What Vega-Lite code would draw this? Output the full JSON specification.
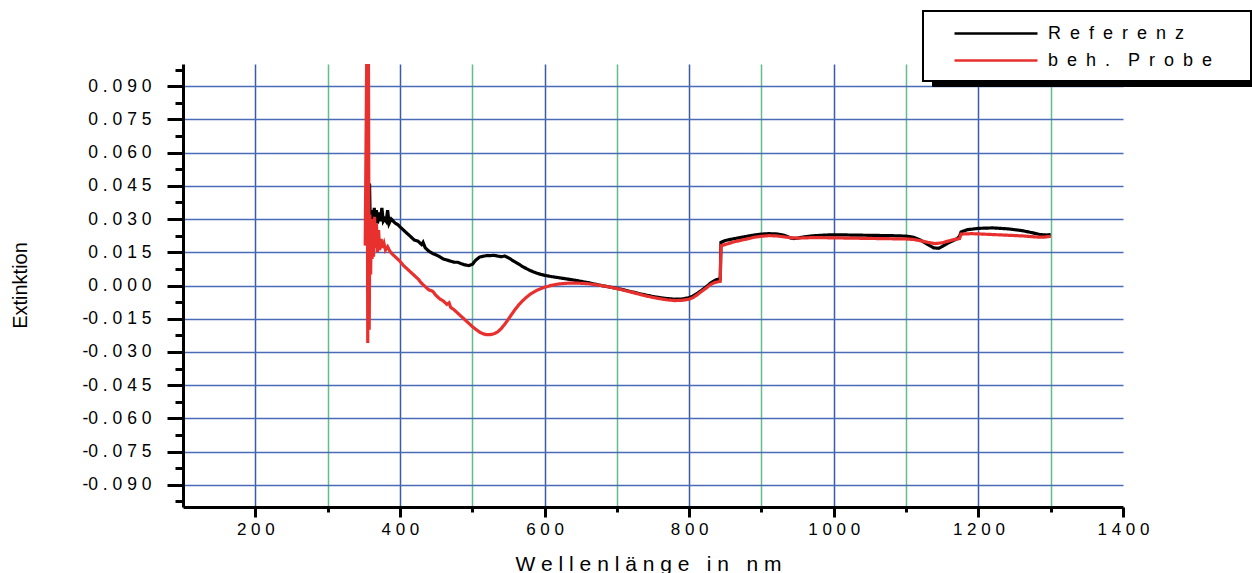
{
  "$schema": "https://vega.github.io/schema/vega-lite/v6.json",
  "autosize": {"type": "none"},
  "width": 940,
  "height": 443,
  "padding": {"left": 183, "top": 64, "right": 129, "bottom": 66},
  "background": "white",
  "view": {"stroke": null},
  "config": {
    "font": "Liberation Sans",
    "axis": {"labelFont": "Liberation Sans", "titleFont": "Liberation Sans", "labelColor": "black", "titleColor": "black", "titleFontWeight": "normal"}
  },
  "data": {
    "values": [
      {"series": "Referenz", "wavelength": 357, "extinction": 0.02},
      {"series": "Referenz", "wavelength": 358, "extinction": 0.046},
      {"series": "Referenz", "wavelength": 359, "extinction": 0.026},
      {"series": "Referenz", "wavelength": 360, "extinction": 0.032},
      {"series": "Referenz", "wavelength": 361, "extinction": 0.027},
      {"series": "Referenz", "wavelength": 362, "extinction": 0.034},
      {"series": "Referenz", "wavelength": 363, "extinction": 0.028},
      {"series": "Referenz", "wavelength": 364.5, "extinction": 0.035},
      {"series": "Referenz", "wavelength": 366, "extinction": 0.029},
      {"series": "Referenz", "wavelength": 367.5, "extinction": 0.034},
      {"series": "Referenz", "wavelength": 369, "extinction": 0.028},
      {"series": "Referenz", "wavelength": 371, "extinction": 0.033},
      {"series": "Referenz", "wavelength": 373, "extinction": 0.029},
      {"series": "Referenz", "wavelength": 375, "extinction": 0.035},
      {"series": "Referenz", "wavelength": 377, "extinction": 0.029},
      {"series": "Referenz", "wavelength": 379, "extinction": 0.03},
      {"series": "Referenz", "wavelength": 381, "extinction": 0.029},
      {"series": "Referenz", "wavelength": 383, "extinction": 0.034},
      {"series": "Referenz", "wavelength": 385, "extinction": 0.028},
      {"series": "Referenz", "wavelength": 388, "extinction": 0.03},
      {"series": "Referenz", "wavelength": 391, "extinction": 0.029},
      {"series": "Referenz", "wavelength": 394, "extinction": 0.028},
      {"series": "Referenz", "wavelength": 397, "extinction": 0.0275},
      {"series": "Referenz", "wavelength": 400, "extinction": 0.0265},
      {"series": "Referenz", "wavelength": 405, "extinction": 0.025},
      {"series": "Referenz", "wavelength": 410, "extinction": 0.0235},
      {"series": "Referenz", "wavelength": 415, "extinction": 0.022},
      {"series": "Referenz", "wavelength": 420, "extinction": 0.0205},
      {"series": "Referenz", "wavelength": 425, "extinction": 0.02},
      {"series": "Referenz", "wavelength": 430, "extinction": 0.0185},
      {"series": "Referenz", "wavelength": 432, "extinction": 0.0195},
      {"series": "Referenz", "wavelength": 435, "extinction": 0.017},
      {"series": "Referenz", "wavelength": 440, "extinction": 0.0155},
      {"series": "Referenz", "wavelength": 445, "extinction": 0.0145},
      {"series": "Referenz", "wavelength": 450, "extinction": 0.0138},
      {"series": "Referenz", "wavelength": 455, "extinction": 0.013},
      {"series": "Referenz", "wavelength": 460, "extinction": 0.012},
      {"series": "Referenz", "wavelength": 465, "extinction": 0.0115},
      {"series": "Referenz", "wavelength": 470, "extinction": 0.011},
      {"series": "Referenz", "wavelength": 475, "extinction": 0.0105},
      {"series": "Referenz", "wavelength": 480, "extinction": 0.0105},
      {"series": "Referenz", "wavelength": 485, "extinction": 0.0098},
      {"series": "Referenz", "wavelength": 490, "extinction": 0.0093},
      {"series": "Referenz", "wavelength": 495, "extinction": 0.009},
      {"series": "Referenz", "wavelength": 500, "extinction": 0.0095},
      {"series": "Referenz", "wavelength": 505, "extinction": 0.0115},
      {"series": "Referenz", "wavelength": 510, "extinction": 0.0128},
      {"series": "Referenz", "wavelength": 515, "extinction": 0.0132},
      {"series": "Referenz", "wavelength": 520, "extinction": 0.0135},
      {"series": "Referenz", "wavelength": 525, "extinction": 0.0135},
      {"series": "Referenz", "wavelength": 530, "extinction": 0.0136},
      {"series": "Referenz", "wavelength": 535, "extinction": 0.0133},
      {"series": "Referenz", "wavelength": 540, "extinction": 0.013},
      {"series": "Referenz", "wavelength": 545, "extinction": 0.0133},
      {"series": "Referenz", "wavelength": 550, "extinction": 0.0125},
      {"series": "Referenz", "wavelength": 555, "extinction": 0.0115},
      {"series": "Referenz", "wavelength": 560, "extinction": 0.0105},
      {"series": "Referenz", "wavelength": 565, "extinction": 0.0095},
      {"series": "Referenz", "wavelength": 570, "extinction": 0.0085},
      {"series": "Referenz", "wavelength": 575, "extinction": 0.0076},
      {"series": "Referenz", "wavelength": 580, "extinction": 0.0068},
      {"series": "Referenz", "wavelength": 585, "extinction": 0.0061},
      {"series": "Referenz", "wavelength": 590, "extinction": 0.0055},
      {"series": "Referenz", "wavelength": 595, "extinction": 0.005},
      {"series": "Referenz", "wavelength": 600, "extinction": 0.0046},
      {"series": "Referenz", "wavelength": 610, "extinction": 0.004},
      {"series": "Referenz", "wavelength": 620, "extinction": 0.0035},
      {"series": "Referenz", "wavelength": 630, "extinction": 0.003},
      {"series": "Referenz", "wavelength": 640, "extinction": 0.0025},
      {"series": "Referenz", "wavelength": 650, "extinction": 0.0019},
      {"series": "Referenz", "wavelength": 660, "extinction": 0.0013},
      {"series": "Referenz", "wavelength": 670, "extinction": 0.0006},
      {"series": "Referenz", "wavelength": 680, "extinction": -0.0001},
      {"series": "Referenz", "wavelength": 690, "extinction": -0.0007},
      {"series": "Referenz", "wavelength": 700, "extinction": -0.0013},
      {"series": "Referenz", "wavelength": 710, "extinction": -0.002},
      {"series": "Referenz", "wavelength": 720, "extinction": -0.0028},
      {"series": "Referenz", "wavelength": 730, "extinction": -0.0036},
      {"series": "Referenz", "wavelength": 740, "extinction": -0.0043},
      {"series": "Referenz", "wavelength": 750, "extinction": -0.005},
      {"series": "Referenz", "wavelength": 760, "extinction": -0.0055},
      {"series": "Referenz", "wavelength": 770, "extinction": -0.0059},
      {"series": "Referenz", "wavelength": 780, "extinction": -0.0062},
      {"series": "Referenz", "wavelength": 790, "extinction": -0.0061},
      {"series": "Referenz", "wavelength": 800, "extinction": -0.0055},
      {"series": "Referenz", "wavelength": 805, "extinction": -0.0048},
      {"series": "Referenz", "wavelength": 810, "extinction": -0.0038},
      {"series": "Referenz", "wavelength": 815, "extinction": -0.0027},
      {"series": "Referenz", "wavelength": 820, "extinction": -0.0015},
      {"series": "Referenz", "wavelength": 825, "extinction": -0.0002},
      {"series": "Referenz", "wavelength": 830, "extinction": 0.0012},
      {"series": "Referenz", "wavelength": 835, "extinction": 0.0022},
      {"series": "Referenz", "wavelength": 838, "extinction": 0.0027},
      {"series": "Referenz", "wavelength": 843, "extinction": 0.003},
      {"series": "Referenz", "wavelength": 844, "extinction": 0.0195},
      {"series": "Referenz", "wavelength": 850, "extinction": 0.0203},
      {"series": "Referenz", "wavelength": 860, "extinction": 0.021},
      {"series": "Referenz", "wavelength": 870, "extinction": 0.0216},
      {"series": "Referenz", "wavelength": 880, "extinction": 0.0222},
      {"series": "Referenz", "wavelength": 890, "extinction": 0.0228},
      {"series": "Referenz", "wavelength": 900, "extinction": 0.0232},
      {"series": "Referenz", "wavelength": 910, "extinction": 0.0234},
      {"series": "Referenz", "wavelength": 920, "extinction": 0.0233},
      {"series": "Referenz", "wavelength": 930, "extinction": 0.0228},
      {"series": "Referenz", "wavelength": 935, "extinction": 0.0222},
      {"series": "Referenz", "wavelength": 940, "extinction": 0.0215},
      {"series": "Referenz", "wavelength": 945, "extinction": 0.0212},
      {"series": "Referenz", "wavelength": 950, "extinction": 0.0214},
      {"series": "Referenz", "wavelength": 960, "extinction": 0.022},
      {"series": "Referenz", "wavelength": 970, "extinction": 0.0224},
      {"series": "Referenz", "wavelength": 980, "extinction": 0.0226},
      {"series": "Referenz", "wavelength": 990, "extinction": 0.0228},
      {"series": "Referenz", "wavelength": 1000, "extinction": 0.0229},
      {"series": "Referenz", "wavelength": 1010, "extinction": 0.0229},
      {"series": "Referenz", "wavelength": 1020, "extinction": 0.0228},
      {"series": "Referenz", "wavelength": 1040, "extinction": 0.0227},
      {"series": "Referenz", "wavelength": 1060, "extinction": 0.0226},
      {"series": "Referenz", "wavelength": 1080, "extinction": 0.0225},
      {"series": "Referenz", "wavelength": 1100, "extinction": 0.0223},
      {"series": "Referenz", "wavelength": 1110, "extinction": 0.0218},
      {"series": "Referenz", "wavelength": 1120, "extinction": 0.0205},
      {"series": "Referenz", "wavelength": 1130, "extinction": 0.0185},
      {"series": "Referenz", "wavelength": 1138, "extinction": 0.017},
      {"series": "Referenz", "wavelength": 1145, "extinction": 0.0168},
      {"series": "Referenz", "wavelength": 1150, "extinction": 0.0176},
      {"series": "Referenz", "wavelength": 1160, "extinction": 0.0195},
      {"series": "Referenz", "wavelength": 1170, "extinction": 0.021},
      {"series": "Referenz", "wavelength": 1174, "extinction": 0.0222},
      {"series": "Referenz", "wavelength": 1176, "extinction": 0.0242},
      {"series": "Referenz", "wavelength": 1185, "extinction": 0.0252},
      {"series": "Referenz", "wavelength": 1200, "extinction": 0.0258},
      {"series": "Referenz", "wavelength": 1220, "extinction": 0.026},
      {"series": "Referenz", "wavelength": 1240, "extinction": 0.0256},
      {"series": "Referenz", "wavelength": 1260, "extinction": 0.0248},
      {"series": "Referenz", "wavelength": 1275, "extinction": 0.0238},
      {"series": "Referenz", "wavelength": 1285, "extinction": 0.023},
      {"series": "Referenz", "wavelength": 1295, "extinction": 0.0228},
      {"series": "Referenz", "wavelength": 1300, "extinction": 0.023},
      {"series": "beh. Probe", "wavelength": 352, "extinction": 0.018},
      {"series": "beh. Probe", "wavelength": 354, "extinction": 0.1},
      {"series": "beh. Probe", "wavelength": 355, "extinction": 0.05},
      {"series": "beh. Probe", "wavelength": 355.5, "extinction": -0.026},
      {"series": "beh. Probe", "wavelength": 356.5, "extinction": 0.1},
      {"series": "beh. Probe", "wavelength": 357.5, "extinction": -0.02},
      {"series": "beh. Probe", "wavelength": 358.5, "extinction": 0.032},
      {"series": "beh. Probe", "wavelength": 359.5, "extinction": 0.005},
      {"series": "beh. Probe", "wavelength": 360.5, "extinction": 0.03},
      {"series": "beh. Probe", "wavelength": 361.5, "extinction": 0.012},
      {"series": "beh. Probe", "wavelength": 362.5, "extinction": 0.026},
      {"series": "beh. Probe", "wavelength": 363.5, "extinction": 0.013},
      {"series": "beh. Probe", "wavelength": 365, "extinction": 0.031},
      {"series": "beh. Probe", "wavelength": 366, "extinction": 0.017},
      {"series": "beh. Probe", "wavelength": 367.5, "extinction": 0.028},
      {"series": "beh. Probe", "wavelength": 369, "extinction": 0.015},
      {"series": "beh. Probe", "wavelength": 370.5, "extinction": 0.025},
      {"series": "beh. Probe", "wavelength": 372, "extinction": 0.016},
      {"series": "beh. Probe", "wavelength": 374, "extinction": 0.021},
      {"series": "beh. Probe", "wavelength": 376, "extinction": 0.017},
      {"series": "beh. Probe", "wavelength": 378, "extinction": 0.019},
      {"series": "beh. Probe", "wavelength": 380, "extinction": 0.016},
      {"series": "beh. Probe", "wavelength": 383, "extinction": 0.0175},
      {"series": "beh. Probe", "wavelength": 386, "extinction": 0.0155},
      {"series": "beh. Probe", "wavelength": 390, "extinction": 0.014},
      {"series": "beh. Probe", "wavelength": 395, "extinction": 0.0125},
      {"series": "beh. Probe", "wavelength": 400, "extinction": 0.011},
      {"series": "beh. Probe", "wavelength": 405, "extinction": 0.009},
      {"series": "beh. Probe", "wavelength": 410, "extinction": 0.0075},
      {"series": "beh. Probe", "wavelength": 415, "extinction": 0.006},
      {"series": "beh. Probe", "wavelength": 420, "extinction": 0.0045},
      {"series": "beh. Probe", "wavelength": 425, "extinction": 0.003},
      {"series": "beh. Probe", "wavelength": 430, "extinction": 0.001},
      {"series": "beh. Probe", "wavelength": 435, "extinction": -0.0005},
      {"series": "beh. Probe", "wavelength": 440, "extinction": -0.002},
      {"series": "beh. Probe", "wavelength": 445, "extinction": -0.0025},
      {"series": "beh. Probe", "wavelength": 450, "extinction": -0.0045},
      {"series": "beh. Probe", "wavelength": 455, "extinction": -0.006},
      {"series": "beh. Probe", "wavelength": 460, "extinction": -0.007},
      {"series": "beh. Probe", "wavelength": 465, "extinction": -0.0085},
      {"series": "beh. Probe", "wavelength": 468, "extinction": -0.0078},
      {"series": "beh. Probe", "wavelength": 470, "extinction": -0.0098},
      {"series": "beh. Probe", "wavelength": 475, "extinction": -0.011},
      {"series": "beh. Probe", "wavelength": 480, "extinction": -0.0125},
      {"series": "beh. Probe", "wavelength": 485, "extinction": -0.014},
      {"series": "beh. Probe", "wavelength": 490, "extinction": -0.0155},
      {"series": "beh. Probe", "wavelength": 495, "extinction": -0.017},
      {"series": "beh. Probe", "wavelength": 500, "extinction": -0.0185},
      {"series": "beh. Probe", "wavelength": 505, "extinction": -0.0198},
      {"series": "beh. Probe", "wavelength": 510, "extinction": -0.021},
      {"series": "beh. Probe", "wavelength": 515, "extinction": -0.0218},
      {"series": "beh. Probe", "wavelength": 520, "extinction": -0.0222},
      {"series": "beh. Probe", "wavelength": 525, "extinction": -0.0222},
      {"series": "beh. Probe", "wavelength": 530, "extinction": -0.0218},
      {"series": "beh. Probe", "wavelength": 535, "extinction": -0.021},
      {"series": "beh. Probe", "wavelength": 540, "extinction": -0.0195},
      {"series": "beh. Probe", "wavelength": 545, "extinction": -0.0175},
      {"series": "beh. Probe", "wavelength": 550, "extinction": -0.0152},
      {"series": "beh. Probe", "wavelength": 555, "extinction": -0.0128},
      {"series": "beh. Probe", "wavelength": 560, "extinction": -0.0105},
      {"series": "beh. Probe", "wavelength": 565, "extinction": -0.0085},
      {"series": "beh. Probe", "wavelength": 570, "extinction": -0.0068},
      {"series": "beh. Probe", "wavelength": 575, "extinction": -0.0053},
      {"series": "beh. Probe", "wavelength": 580, "extinction": -0.004},
      {"series": "beh. Probe", "wavelength": 585, "extinction": -0.003},
      {"series": "beh. Probe", "wavelength": 590, "extinction": -0.0021},
      {"series": "beh. Probe", "wavelength": 595, "extinction": -0.0014},
      {"series": "beh. Probe", "wavelength": 600, "extinction": -0.0008},
      {"series": "beh. Probe", "wavelength": 610, "extinction": 0.0001},
      {"series": "beh. Probe", "wavelength": 620, "extinction": 0.0007},
      {"series": "beh. Probe", "wavelength": 630, "extinction": 0.001},
      {"series": "beh. Probe", "wavelength": 640, "extinction": 0.0011},
      {"series": "beh. Probe", "wavelength": 650, "extinction": 0.001},
      {"series": "beh. Probe", "wavelength": 660, "extinction": 0.0008},
      {"series": "beh. Probe", "wavelength": 670, "extinction": 0.0004},
      {"series": "beh. Probe", "wavelength": 680, "extinction": -0.0001},
      {"series": "beh. Probe", "wavelength": 690, "extinction": -0.0007},
      {"series": "beh. Probe", "wavelength": 700, "extinction": -0.0014},
      {"series": "beh. Probe", "wavelength": 710, "extinction": -0.0022},
      {"series": "beh. Probe", "wavelength": 720, "extinction": -0.003},
      {"series": "beh. Probe", "wavelength": 730, "extinction": -0.0038},
      {"series": "beh. Probe", "wavelength": 740, "extinction": -0.0047},
      {"series": "beh. Probe", "wavelength": 750, "extinction": -0.0054},
      {"series": "beh. Probe", "wavelength": 760, "extinction": -0.006},
      {"series": "beh. Probe", "wavelength": 770, "extinction": -0.0065},
      {"series": "beh. Probe", "wavelength": 780, "extinction": -0.0068},
      {"series": "beh. Probe", "wavelength": 790, "extinction": -0.0067},
      {"series": "beh. Probe", "wavelength": 800, "extinction": -0.0062},
      {"series": "beh. Probe", "wavelength": 805, "extinction": -0.0055},
      {"series": "beh. Probe", "wavelength": 810, "extinction": -0.0045},
      {"series": "beh. Probe", "wavelength": 815, "extinction": -0.0032},
      {"series": "beh. Probe", "wavelength": 820, "extinction": -0.002},
      {"series": "beh. Probe", "wavelength": 825, "extinction": -0.0008},
      {"series": "beh. Probe", "wavelength": 830, "extinction": 0.0005},
      {"series": "beh. Probe", "wavelength": 835, "extinction": 0.0013},
      {"series": "beh. Probe", "wavelength": 840, "extinction": 0.0017},
      {"series": "beh. Probe", "wavelength": 843, "extinction": 0.0019},
      {"series": "beh. Probe", "wavelength": 844, "extinction": 0.018},
      {"series": "beh. Probe", "wavelength": 850, "extinction": 0.0185},
      {"series": "beh. Probe", "wavelength": 860, "extinction": 0.0195},
      {"series": "beh. Probe", "wavelength": 870, "extinction": 0.0203},
      {"series": "beh. Probe", "wavelength": 880, "extinction": 0.021},
      {"series": "beh. Probe", "wavelength": 890, "extinction": 0.0218},
      {"series": "beh. Probe", "wavelength": 900, "extinction": 0.0222},
      {"series": "beh. Probe", "wavelength": 910, "extinction": 0.0225},
      {"series": "beh. Probe", "wavelength": 920, "extinction": 0.0224},
      {"series": "beh. Probe", "wavelength": 930, "extinction": 0.022},
      {"series": "beh. Probe", "wavelength": 940, "extinction": 0.0216},
      {"series": "beh. Probe", "wavelength": 950, "extinction": 0.0214},
      {"series": "beh. Probe", "wavelength": 960, "extinction": 0.0215},
      {"series": "beh. Probe", "wavelength": 970, "extinction": 0.0216},
      {"series": "beh. Probe", "wavelength": 980, "extinction": 0.0216},
      {"series": "beh. Probe", "wavelength": 1000, "extinction": 0.0215},
      {"series": "beh. Probe", "wavelength": 1020, "extinction": 0.0214},
      {"series": "beh. Probe", "wavelength": 1040, "extinction": 0.0213},
      {"series": "beh. Probe", "wavelength": 1060, "extinction": 0.0212},
      {"series": "beh. Probe", "wavelength": 1080, "extinction": 0.0211},
      {"series": "beh. Probe", "wavelength": 1100, "extinction": 0.021},
      {"series": "beh. Probe", "wavelength": 1110, "extinction": 0.0208},
      {"series": "beh. Probe", "wavelength": 1120, "extinction": 0.0202},
      {"series": "beh. Probe", "wavelength": 1130, "extinction": 0.0195},
      {"series": "beh. Probe", "wavelength": 1140, "extinction": 0.0189},
      {"series": "beh. Probe", "wavelength": 1150, "extinction": 0.0193},
      {"series": "beh. Probe", "wavelength": 1160, "extinction": 0.0202},
      {"series": "beh. Probe", "wavelength": 1170, "extinction": 0.021},
      {"series": "beh. Probe", "wavelength": 1174, "extinction": 0.0212},
      {"series": "beh. Probe", "wavelength": 1176, "extinction": 0.0232},
      {"series": "beh. Probe", "wavelength": 1190, "extinction": 0.0234},
      {"series": "beh. Probe", "wavelength": 1200, "extinction": 0.0233},
      {"series": "beh. Probe", "wavelength": 1220, "extinction": 0.023},
      {"series": "beh. Probe", "wavelength": 1240, "extinction": 0.0227},
      {"series": "beh. Probe", "wavelength": 1260, "extinction": 0.0224},
      {"series": "beh. Probe", "wavelength": 1280, "extinction": 0.0219},
      {"series": "beh. Probe", "wavelength": 1290, "extinction": 0.0218},
      {"series": "beh. Probe", "wavelength": 1300, "extinction": 0.0222}
    ]
  },
  "mark": {"type": "line", "clip": true, "strokeWidth": 3.2, "interpolate": "linear"},
  "encoding": {
    "x": {
      "field": "wavelength",
      "type": "quantitative",
      "scale": {"domain": [100, 1400], "nice": false, "zero": false},
      "axis": {
        "title": "W e l l e n l ä n g e \u00a0 i n \u00a0 n m",
        "titleFontSize": 21,
        "titleX": 465,
        "titleY": 63,
        "titleAlign": "center",
        "titleBaseline": "alphabetic",
        "values": [200, 300, 400, 500, 600, 700, 800, 900, 1000, 1100, 1200, 1300, 1400],
        "labelExpr": "datum.value % 200 === 0 ? join(split(format(datum.value, 'd'), ''), ' ') : ''",
        "labelFontSize": 17,
        "labelPadding": 4,
        "labelFlush": false,
        "labelOverlap": false,
        "domainColor": "black",
        "domainWidth": 3,
        "tickColor": "black",
        "tickWidth": 3,
        "tickSize": {"condition": {"test": "datum.value % 200 === 0", "value": 10}, "value": 5},
        "grid": true,
        "gridWidth": 1.5,
        "gridColor": {"condition": {"test": "datum.value % 200 === 0", "value": "#3b5ba8"}, "value": "#62bd8a"},
        "gridOpacity": {"condition": {"test": "datum.value === 1400", "value": 0}, "value": 1}
      }
    },
    "y": {
      "field": "extinction",
      "type": "quantitative",
      "scale": {"domain": [-0.1, 0.1], "nice": false, "zero": false},
      "axis": {
        "title": "Extinktion",
        "titleFontSize": 20,
        "titleX": -163,
        "titleY": 221,
        "titleAlign": "center",
        "titleBaseline": "middle",
        "values": [0.0975, 0.09, 0.0825, 0.075, 0.0675, 0.06, 0.0525, 0.045, 0.0375, 0.03, 0.0225, 0.015, 0.0075, 0, -0.0075, -0.015, -0.0225, -0.03, -0.0375, -0.045, -0.0525, -0.06, -0.0675, -0.075, -0.0825, -0.09, -0.0975],
        "labelExpr": "abs(round(datum.value * 10000)) % 150 === 0 ? replace(join(split(format(datum.value, '.3f'), ''), ' '), /^[\u2212-] /, '-') : ''",
        "labelFontSize": 17.5,
        "labelPadding": 16,
        "labelOverlap": false,
        "labelFlush": false,
        "domainColor": "black",
        "domainWidth": 3,
        "tickColor": "black",
        "tickWidth": 3,
        "tickSize": {"condition": {"test": "abs(round(datum.value * 10000)) % 150 === 0", "value": 16}, "value": 8},
        "grid": true,
        "gridWidth": 1.5,
        "gridColor": "#4a6bb5",
        "gridOpacity": {"condition": {"test": "abs(round(datum.value * 10000)) % 150 === 0", "value": 1}, "value": 0}
      }
    },
    "color": {
      "field": "series",
      "type": "nominal",
      "scale": {"range": ["#000000", "#e8302e"]},
      "legend": {
        "orient": "none",
        "legendX": 749,
        "legendY": -46,
        "title": null,
        "fillColor": "black",
        "strokeColor": "black",
        "padding": 11,
        "rowPadding": 6,
        "symbolType": "M-1,0H7.3",
        "symbolSize": 400,
        "symbolOffset": 19,
        "symbolOpacity": 0,
        "labelOffset": 72,
        "labelLimit": 400,
        "labelFontSize": 18,
        "labelColor": "black",
        "labelOpacity": 0,
        "labelFont": "Liberation Sans",
        "labelExpr": "datum.label === 'Referenz' ? 'R\u2002e\u2002f\u2002e\u2002r\u2002e\u2002n\u2002z' : 'b\u2002e\u2002h\u2002.\u2002\u2002P\u2002r\u2002o\u2002b\u2002e\u2002 \u2800'"
      }
    },
    "strokeDash": {
      "field": "series",
      "type": "nominal",
      "scale": {"domain": ["Referenz", "beh. Probe"], "range": [[1, 0], [1, 0]]},
      "legend": {
        "orient": "none",
        "legendX": 740,
        "legendY": -53,
        "title": null,
        "fillColor": "white",
        "strokeColor": "black",
        "padding": 11,
        "rowPadding": 6,
        "symbolType": "M-1,0H7.3",
        "symbolSize": 400,
        "symbolOffset": 19,
        "symbolStrokeWidth": 2.5,
        "labelOffset": 72,
        "labelLimit": 400,
        "labelFontSize": 18,
        "labelColor": "black",
        "labelFont": "Liberation Sans",
        "labelExpr": "datum.label === 'Referenz' ? 'R\u2002e\u2002f\u2002e\u2002r\u2002e\u2002n\u2002z' : 'b\u2002e\u2002h\u2002.\u2002\u2002P\u2002r\u2002o\u2002b\u2002e\u2002 \u2800'",
        "encode": {
          "legend": {"update": {"strokeWidth": {"value": 2}}},
          "symbols": {"update": {"stroke": {"signal": "datum.value === 'Referenz' ? '#000000' : '#e8302e'"}, "strokeWidth": {"value": 2.5}, "opacity": {"value": 1}}}
        }
      }
    }
  }
}
